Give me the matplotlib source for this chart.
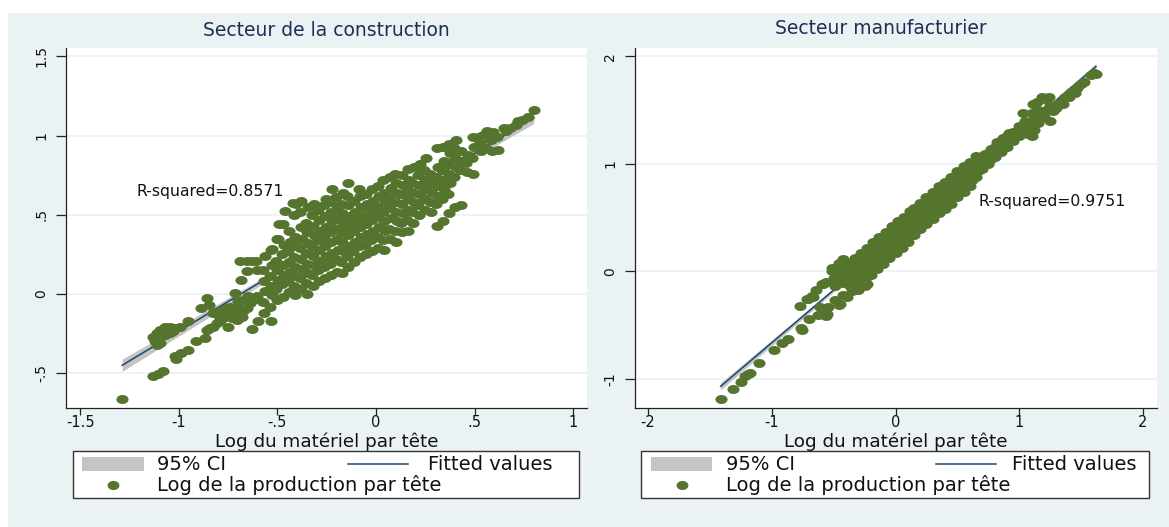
import numpy as np
import matplotlib
matplotlib.use("Agg")
import matplotlib.pyplot as plt
from matplotlib.path import Path
from matplotlib.patches import Rectangle
from matplotlib.lines import Line2D

plt.rcParams['font.family'] = ['DejaVu Sans']
plt.rcParams['axes.unicode_minus'] = False

# ---------------- data ----------------
titles = ["Secteur de la construction", "Secteur manufacturier"]
xlabel = "Log du matériel par tête"
legend_labels = ["95% CI", "Fitted values", "Log de la production par tête"]
r2_texts = ["R-squared=0.8571", "R-squared=0.9751"]

# fitted line (intercept, slope) as drawn
fit_construction = (0.513, 0.749)
fit_manuf = (0.317, 0.981)

construction_tail = [
    (-1.287, -0.664),
    (-1.132, -0.516), (-1.107, -0.506), (-1.079, -0.485),
    (-1.014, -0.413), (-1.020, -0.392), (-0.989, -0.375), (-0.952, -0.354),
    (-1.129, -0.270), (-1.112, -0.290), (-1.112, -0.248), (-1.095, -0.227), (-1.070, -0.206),
    (-1.045, -0.206), (-1.019, -0.217), (-0.994, -0.212), (-1.112, -0.322), (-1.095, -0.310),
    (-1.070, -0.262), (-1.045, -0.248), (-1.080, -0.240), (-1.120, -0.300), (-1.100, -0.275),
    (-1.060, -0.225), (-1.030, -0.235),
    (-0.952, -0.170), (-0.913, -0.295), (-0.867, -0.280),
    (-0.887, -0.090), (-0.855, -0.027), (-0.845, -0.070),
    (-0.859, -0.227), (-0.842, -0.217), (-0.825, -0.206), (-0.808, -0.185), (-0.791, -0.174),
    (-0.749, -0.210),
    (-0.825, -0.122), (-0.800, -0.111), (-0.774, -0.101), (-0.757, -0.090), (-0.740, -0.080),
    (-0.723, -0.101), (-0.706, -0.080), (-0.749, -0.122), (-0.766, -0.143), (-0.732, -0.153),
    (-0.706, -0.164), (-0.681, -0.143), (-0.673, -0.111), (-0.656, -0.090), (-0.639, -0.058),
    (-0.622, -0.037), (-0.605, -0.016), (-0.647, -0.016), (-0.673, -0.037), (-0.698, -0.048),
    (-0.715, 0.005), (-0.790, -0.150), (-0.720, -0.120),
    (-0.631, -0.221), (-0.597, -0.174),
    (-0.652, 0.142), (-0.631, 0.205), (-0.656, 0.205), (-0.605, 0.152), (-0.685, 0.089),
    (-0.610, 0.210), (-0.688, 0.206),
    (-0.420, 0.574), (-0.380, 0.585), (-0.459, 0.521), (-0.493, 0.440), (-0.503, 0.347),
    (-0.526, 0.283),
]

construction_core = [
    (-0.570, -0.12), (-0.575, -0.05), (-0.565, 0.02), (-0.570, 0.08), (-0.575, 0.15), (-0.565, 0.24),
    (-0.530, -0.17), (-0.535, -0.08), (-0.525, -0.01), (-0.530, 0.05), (-0.535, 0.11), (-0.525, 0.18), (-0.530, 0.28),
    (-0.500, -0.04), (-0.505, 0.03), (-0.495, 0.09), (-0.500, 0.15), (-0.505, 0.21), (-0.495, 0.35),
    (-0.470, -0.02), (-0.475, 0.06), (-0.465, 0.12), (-0.470, 0.18), (-0.475, 0.25), (-0.465, 0.31), (-0.470, 0.44),
    (-0.440, 0.01), (-0.445, 0.08), (-0.435, 0.14), (-0.440, 0.20), (-0.445, 0.27), (-0.435, 0.33), (-0.440, 0.40),
    (-0.410, -0.01), (-0.415, 0.05), (-0.405, 0.11), (-0.410, 0.17), (-0.415, 0.23), (-0.405, 0.30), (-0.410, 0.36),
    (-0.415, 0.50), (-0.405, 0.57),
    (-0.380, 0.03), (-0.385, 0.10), (-0.375, 0.16), (-0.380, 0.22), (-0.385, 0.29), (-0.375, 0.35), (-0.380, 0.42), (-0.385, 0.52),
    (-0.350, 0.00), (-0.355, 0.07), (-0.345, 0.13), (-0.350, 0.19), (-0.355, 0.26), (-0.345, 0.32), (-0.350, 0.39), (-0.355, 0.45), (-0.345, 0.55),
    (-0.320, 0.05), (-0.325, 0.12), (-0.315, 0.18), (-0.320, 0.24), (-0.325, 0.30), (-0.315, 0.37), (-0.320, 0.43), (-0.325, 0.50), (-0.315, 0.57),
    (-0.290, 0.08), (-0.295, 0.15), (-0.285, 0.21), (-0.290, 0.28), (-0.295, 0.34), (-0.285, 0.40), (-0.290, 0.47), (-0.295, 0.53),
    (-0.260, 0.10), (-0.265, 0.17), (-0.255, 0.24), (-0.260, 0.30), (-0.265, 0.36), (-0.255, 0.42), (-0.260, 0.49), (-0.265, 0.56), (-0.255, 0.60),
    (-0.230, 0.12), (-0.235, 0.19), (-0.225, 0.26), (-0.230, 0.33), (-0.235, 0.39), (-0.225, 0.46), (-0.230, 0.52), (-0.235, 0.58), (-0.225, 0.66),
    (-0.200, 0.14), (-0.205, 0.22), (-0.195, 0.28), (-0.200, 0.35), (-0.205, 0.41), (-0.195, 0.48), (-0.200, 0.55), (-0.205, 0.61),
    (-0.170, 0.13), (-0.175, 0.20), (-0.165, 0.27), (-0.170, 0.33), (-0.175, 0.39), (-0.165, 0.45), (-0.170, 0.51), (-0.175, 0.57), (-0.165, 0.64),
    (-0.140, 0.17), (-0.145, 0.24), (-0.135, 0.30), (-0.140, 0.37), (-0.145, 0.43), (-0.135, 0.49), (-0.140, 0.56), (-0.145, 0.62), (-0.143, 0.70),
    (-0.110, 0.20), (-0.115, 0.27), (-0.105, 0.33), (-0.110, 0.40), (-0.115, 0.46), (-0.105, 0.52), (-0.110, 0.59),
    (-0.080, 0.23), (-0.085, 0.30), (-0.075, 0.36), (-0.080, 0.42), (-0.085, 0.48), (-0.075, 0.55), (-0.080, 0.62), (-0.085, 0.66),
    (-0.050, 0.25), (-0.055, 0.31), (-0.045, 0.38), (-0.050, 0.44), (-0.055, 0.50), (-0.045, 0.57), (-0.050, 0.63),
    (-0.020, 0.27), (-0.025, 0.34), (-0.015, 0.40), (-0.020, 0.47), (-0.025, 0.53), (-0.015, 0.59), (-0.020, 0.66),
    (0.010, 0.29), (0.005, 0.36), (0.015, 0.42), (0.010, 0.49), (0.005, 0.55), (0.015, 0.62), (0.010, 0.68),
    (0.040, 0.28), (0.035, 0.34), (0.045, 0.40), (0.040, 0.46), (0.035, 0.52), (0.045, 0.58), (0.040, 0.64), (0.035, 0.72),
    (0.070, 0.35), (0.065, 0.41), (0.075, 0.48), (0.070, 0.54), (0.065, 0.61), (0.075, 0.67), (0.070, 0.74),
    (0.100, 0.33), (0.095, 0.40), (0.105, 0.46), (0.100, 0.52), (0.095, 0.58), (0.105, 0.64), (0.100, 0.70), (0.095, 0.76),
    (0.130, 0.39), (0.125, 0.45), (0.135, 0.51), (0.130, 0.57), (0.125, 0.63), (0.135, 0.69), (0.130, 0.75),
    (0.160, 0.40), (0.155, 0.47), (0.165, 0.53), (0.160, 0.60), (0.155, 0.66), (0.165, 0.72), (0.160, 0.79),
    (0.190, 0.45), (0.185, 0.52), (0.195, 0.58), (0.190, 0.64), (0.185, 0.70), (0.195, 0.80),
    (0.220, 0.50), (0.215, 0.56), (0.225, 0.63), (0.220, 0.69), (0.215, 0.75), (0.225, 0.82),
    (0.250, 0.53), (0.245, 0.60), (0.255, 0.66), (0.250, 0.72), (0.245, 0.78), (0.255, 0.86),
    (0.280, 0.52), (0.275, 0.58), (0.285, 0.64), (0.280, 0.70), (0.275, 0.76),
    (0.310, 0.43), (0.305, 0.57), (0.315, 0.62), (0.310, 0.68), (0.305, 0.74), (0.315, 0.80), (0.310, 0.92),
    (0.340, 0.46), (0.335, 0.60), (0.345, 0.66), (0.340, 0.72), (0.335, 0.78), (0.345, 0.84), (0.340, 0.93),
    (0.370, 0.51), (0.365, 0.63), (0.375, 0.70), (0.370, 0.76), (0.365, 0.82), (0.375, 0.89), (0.370, 0.95),
    (0.400, 0.55), (0.395, 0.74), (0.405, 0.80), (0.400, 0.86), (0.395, 0.92), (0.405, 0.97),
    (0.430, 0.56), (0.425, 0.78), (0.435, 0.84), (0.430, 0.90),
    (0.460, 0.77), (0.455, 0.83), (0.465, 0.88),
    (0.490, 0.76), (0.485, 0.86), (0.495, 0.93), (0.490, 0.99),
    (0.530, 0.90), (0.525, 0.96), (0.535, 1.00),
    (0.560, 0.92), (0.555, 1.01), (0.565, 1.03),
    (0.590, 0.90), (0.585, 0.97), (0.595, 1.02),
    (0.620, 0.91), (0.615, 0.99),
    (0.650, 1.05), (0.660, 1.03), (0.680, 1.05),
    (0.710, 1.07), (0.720, 1.09), (0.740, 1.10), (0.770, 1.12), (0.800, 1.16),
]

manuf_tail = [
    (-1.414, -1.192), (-1.314, -1.092), (-1.253, -1.029), (-1.217, -0.976), (-1.195, -0.955),
    (-1.180, -0.945), (-1.101, -0.857), (-0.983, -0.732), (-0.919, -0.669), (-0.873, -0.632),
    (-0.767, -0.529), (-0.760, -0.544), (-0.700, -0.444),
    (-0.773, -0.325), (-0.719, -0.255), (-0.665, -0.240), (-0.706, -0.256), (-0.678, -0.225),
    (-0.645, -0.169), (-0.593, -0.122), (-0.563, -0.100), (-0.584, -0.116), (-0.517, 0.000),
    (-0.487, 0.019), (-0.517, 0.034), (-0.456, 0.081), (-0.426, 0.113), (-0.449, 0.070),
    (-0.611, -0.333), (-0.557, -0.395), (-0.584, -0.380), (-0.624, -0.403), (-0.563, -0.413),
    (-0.548, -0.332), (-0.449, -0.302), (-0.456, -0.310), (-0.487, -0.263), (-0.426, -0.216),
    (-0.395, -0.240), (-0.288, -0.131), (-0.234, -0.120), (-0.243, -0.138), (-0.304, -0.169),
    (-0.365, -0.044), (-0.365, -0.138), (-0.487, -0.138), (-0.426, -0.106), (-0.304, 0.019),
    (-0.335, -0.090), (-0.400, -0.050), (-0.400, 0.020), (-0.450, -0.030), (-0.500, -0.060),
    (-0.380, 0.080),
]

manuf_core = [
    (-0.35, -0.18), (-0.33, -0.12), (-0.35, -0.06), (-0.33, 0.00), (-0.35, 0.06), (-0.33, 0.12),
    (-0.30, -0.13), (-0.28, -0.07), (-0.30, -0.01), (-0.28, 0.05), (-0.30, 0.11), (-0.28, 0.17),
    (-0.25, -0.08), (-0.23, -0.02), (-0.25, 0.04), (-0.23, 0.10), (-0.25, 0.16), (-0.23, 0.22),
    (-0.20, -0.03), (-0.18, 0.03), (-0.20, 0.09), (-0.18, 0.15), (-0.20, 0.21), (-0.18, 0.27),
    (-0.15, 0.02), (-0.13, 0.08), (-0.15, 0.14), (-0.13, 0.20), (-0.15, 0.26), (-0.13, 0.32),
    (-0.10, 0.07), (-0.08, 0.13), (-0.10, 0.19), (-0.08, 0.25), (-0.10, 0.31), (-0.08, 0.37),
    (-0.05, 0.12), (-0.03, 0.18), (-0.05, 0.24), (-0.03, 0.30), (-0.05, 0.36), (-0.03, 0.42),
    (0.00, 0.17), (0.02, 0.23), (0.00, 0.29), (0.02, 0.35), (0.00, 0.41), (0.02, 0.47),
    (0.05, 0.22), (0.07, 0.28), (0.05, 0.34), (0.07, 0.40), (0.05, 0.46), (0.07, 0.51),
    (0.10, 0.27), (0.12, 0.33), (0.10, 0.39), (0.12, 0.45), (0.10, 0.51), (0.12, 0.56),
    (0.15, 0.34), (0.17, 0.40), (0.15, 0.46), (0.17, 0.52), (0.15, 0.59),
    (0.20, 0.39), (0.22, 0.45), (0.20, 0.51), (0.22, 0.57), (0.20, 0.64),
    (0.25, 0.44), (0.27, 0.50), (0.25, 0.56), (0.27, 0.62), (0.25, 0.69),
    (0.30, 0.49), (0.32, 0.55), (0.30, 0.61), (0.32, 0.67), (0.30, 0.74),
    (0.35, 0.54), (0.37, 0.60), (0.35, 0.66), (0.37, 0.72), (0.35, 0.79),
    (0.40, 0.58), (0.42, 0.65), (0.40, 0.71), (0.42, 0.77), (0.40, 0.83),
    (0.45, 0.63), (0.47, 0.70), (0.45, 0.76), (0.47, 0.82), (0.45, 0.88),
    (0.50, 0.69), (0.52, 0.75), (0.50, 0.81), (0.52, 0.87), (0.50, 0.93),
    (0.55, 0.74), (0.57, 0.80), (0.55, 0.86), (0.57, 0.92), (0.55, 0.98),
    (0.60, 0.79), (0.62, 0.85), (0.60, 0.91), (0.62, 0.97), (0.60, 1.02),
    (0.65, 0.88), (0.67, 0.93), (0.65, 0.98), (0.67, 1.03), (0.65, 1.07),
    (0.70, 0.95), (0.72, 1.00), (0.70, 1.05), (0.72, 1.09),
    (0.75, 1.00), (0.77, 1.05), (0.75, 1.10), (0.77, 1.14),
    (0.80, 1.06), (0.82, 1.11), (0.80, 1.16), (0.82, 1.20),
    (0.85, 1.11), (0.87, 1.16), (0.85, 1.21), (0.87, 1.24),
    (0.90, 1.16), (0.92, 1.21), (0.90, 1.26), (0.92, 1.29),
    (0.95, 1.21), (0.97, 1.26), (0.95, 1.30),
    (1.00, 1.26), (1.02, 1.31), (1.00, 1.35),
    (1.05, 1.31), (1.07, 1.36), (1.05, 1.40), (1.03, 1.47), (1.07, 1.28),
    (1.10, 1.26), (1.12, 1.32), (1.10, 1.37), (1.12, 1.42), (1.10, 1.47),
    (1.15, 1.38), (1.17, 1.43), (1.15, 1.50), (1.11, 1.56), (1.14, 1.58),
    (1.20, 1.44), (1.22, 1.50), (1.21, 1.60), (1.18, 1.62),
    (1.25, 1.40), (1.27, 1.49), (1.25, 1.55), (1.24, 1.62),
    (1.30, 1.52), (1.32, 1.57), (1.35, 1.56), (1.37, 1.62),
    (1.40, 1.62), (1.42, 1.67), (1.45, 1.66), (1.47, 1.71),
    (1.50, 1.74), (1.52, 1.76), (1.58, 1.83), (1.60, 1.85), (1.62, 1.84),
]

construction_xticks = [-1.5, -1, -0.5, 0, 0.5, 1]
construction_xticklabels = ["-1.5", "-1", "-.5", "0", ".5", "1"]
construction_yticks = [-0.5, 0, 0.5, 1, 1.5]
construction_yticklabels = ["-.5", "0", ".5", "1", "1.5"]
manuf_xticks = [-2, -1, 0, 1, 2]
manuf_xticklabels = ["-2", "-1", "0", "1", "2"]
manuf_yticks = [-1, 0, 1, 2]
manuf_yticklabels = ["-1", "0", "1", "2"]

# ---------------- style ----------------
W, H = 1169, 527
BG = "#eaf2f3"
GREEN = "#55752f"
NAVY = "#1a476f"
CI = "#c4c4c4"
TITLE_C = "#1e2f55"
TXT = "#111111"

def fx(px):
    return px / W

def fy(py):
    return 1 - py / H

fig = plt.figure(figsize=(W / 100, H / 100), dpi=100, facecolor="white")
fig.add_artist(Rectangle((fx(8), 0), 1 - fx(8), fy(13), transform=fig.transFigure,
                         facecolor=BG, edgecolor="none", zorder=-10))

# ellipse marker (reference markers are wider than tall)
th = np.linspace(0, 2 * np.pi, 49)
ell = Path(np.column_stack([1.35 * np.cos(th), np.sin(th)]), closed=True)


def panel(rect, pts, fit, xlim, ylim, xticks, xtl, yticks, ytl, r2, r2pos):
    ax = fig.add_axes(rect)
    ax.set_facecolor("white")
    x = np.array([p[0] for p in pts])
    y = np.array([p[1] for p in pts])
    a, b = fit
    xs = np.linspace(x.min(), x.max(), 200)
    yh = a + b * xs
    n = len(x)
    s = np.sqrt(np.sum((y - (a + b * x)) ** 2) / (n - 2))
    sxx = np.sum((x - x.mean()) ** 2)
    hw = 1.96 * s * np.sqrt(1 / n + (xs - x.mean()) ** 2 / sxx)
    for t in yticks:
        ax.axhline(t, color=BG, lw=1.2, zorder=0)
    ax.fill_between(xs, yh - hw, yh + hw, color=CI, lw=0, zorder=2)
    ax.plot(xs, yh, color=NAVY, lw=1.1, zorder=3)
    ax.scatter(x, y, s=76, marker=ell, color=GREEN, linewidths=0, zorder=4)
    ax.set_xlim(*xlim)
    ax.set_ylim(*ylim)
    ax.set_xticks(xticks)
    ax.set_xticklabels(xtl)
    ax.set_yticks(yticks)
    ax.set_yticklabels(ytl, rotation=90, va="center")
    for sp in ("top", "right"):
        ax.spines[sp].set_visible(False)
    for sp in ("left", "bottom"):
        ax.spines[sp].set_color("#222222")
        ax.spines[sp].set_linewidth(0.9)
    ax.tick_params(axis="x", length=5.0, width=0.9, color="#222222", pad=0.3,
                   labelsize=10.5, labelcolor=TXT)
    ax.tick_params(axis="y", length=7, width=0.9, color="#222222", pad=6,
                   labelsize=10, labelcolor=TXT)
    ax.text(r2pos[0], r2pos[1], r2, ha="left", va="center", fontsize=11.3,
            color=TXT, zorder=6)
    return ax


axL = panel([fx(66.2), fy(407.7), fx(587) - fx(66.2), fy(48.1) - fy(407.7)],
            construction_tail + construction_core, fit_construction,
            (-1.571, 1.070), (-0.719, 1.553),
            construction_xticks, construction_xticklabels,
            construction_yticks, construction_yticklabels,
            r2_texts[0], (-1.217, 0.649))
axR = panel([fx(635), fy(407.7), fx(1156.6) - fx(635), fy(48.1) - fy(407.7)],
            manuf_tail + manuf_core, fit_manuf,
            (-2.106, 2.110), (-1.269, 2.078),
            manuf_xticks, manuf_xticklabels,
            manuf_yticks, manuf_yticklabels,
            r2_texts[1], (0.674, 0.651))

# titles and x labels
fig.text(fx(326.6), fy(30), titles[0], ha="center", va="center", fontsize=13.5, color=TITLE_C)
fig.text(fx(880.6), fy(28.6), titles[1], ha="center", va="center", fontsize=13.5, color=TITLE_C)
fig.text(fx(326.6), fy(442), xlabel, ha="center", va="center", fontsize=13.2, color=TXT)
fig.text(fx(895.8), fy(442), xlabel, ha="center", va="center", fontsize=13.2, color=TXT)


def legend(box, patch_x, text1_x, line_x, text2_x, dot_x):
    x0, y0, x1, y1 = box
    fig.add_artist(Rectangle((fx(x0), fy(y1)), fx(x1) - fx(x0), fy(y0) - fy(y1),
                             transform=fig.transFigure, facecolor="white",
                             edgecolor="#333333", lw=1.0, zorder=5))
    fig.add_artist(Rectangle((fx(patch_x[0]), fy(470.6)), fx(patch_x[1]) - fx(patch_x[0]),
                             fy(457) - fy(470.6), transform=fig.transFigure,
                             facecolor=CI, edgecolor="none", zorder=6))
    fig.text(fx(text1_x), fy(464.5), legend_labels[0], ha="left", va="center",
             fontsize=14, color=TXT, zorder=6)
    fig.add_artist(Line2D([fx(line_x[0]), fx(line_x[1])], [fy(464), fy(464)],
                          transform=fig.transFigure, color=NAVY, lw=1.1, zorder=6))
    fig.text(fx(text2_x), fy(464.5), legend_labels[1], ha="left", va="center",
             fontsize=14, color=TXT, zorder=6)
    fig.add_artist(Line2D([fx(dot_x)], [fy(484.7)], transform=fig.transFigure,
                          marker=ell, markersize=7.5, color=GREEN, lw=0, zorder=6))
    fig.text(fx(text1_x), fy(485), legend_labels[2], ha="left", va="center",
             fontsize=14, color=TXT, zorder=6)


legend((73.4, 451.4, 578.8, 497.5), (82, 144), 157, (348, 408), 428, 113)
legend((641.3, 451.4, 1149, 497.5), (650.8, 711.7), 726, (935.7, 995.9), 1012, 681.6)

fig.savefig("out.png", dpi=100, facecolor="white")
